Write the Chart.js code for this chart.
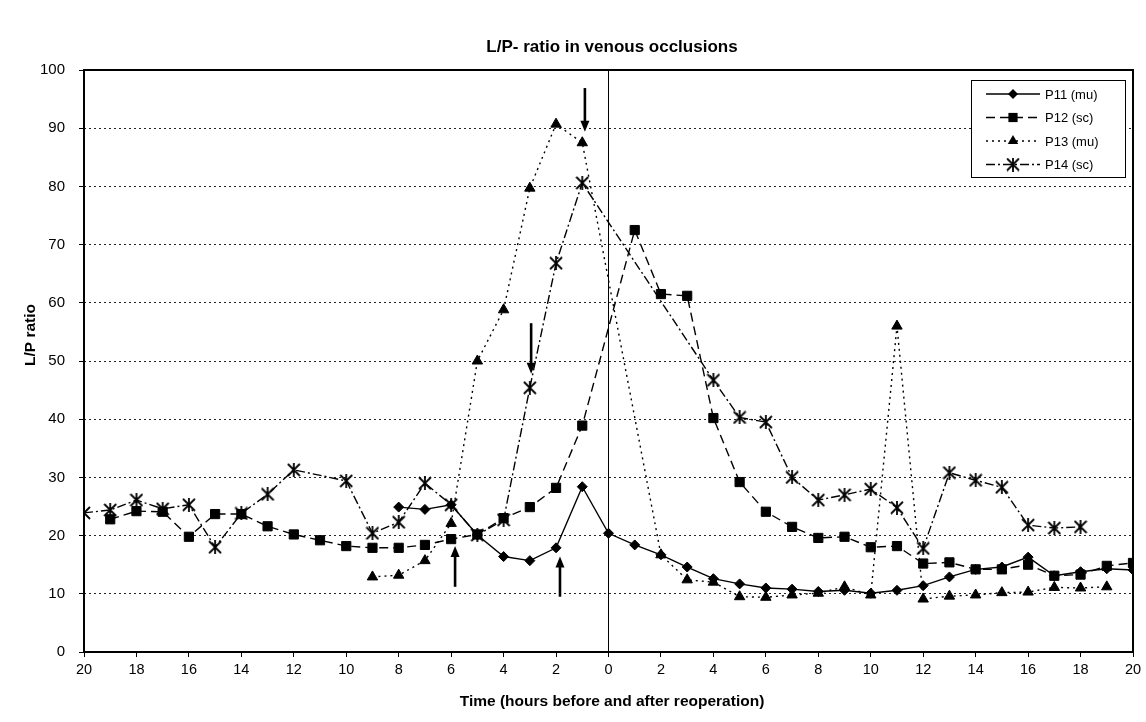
<!DOCTYPE html>
<html>
<head>
<meta charset="utf-8">
<title>L/P- ratio in venous occlusions</title>
<script src="https://cdn.jsdelivr.net/npm/chart.js@4.4.0/dist/chart.umd.min.js"></script>
<style>
  html, body { margin: 0; padding: 0; background: #fff; }
  #wrap { width: 1146px; height: 722px; }
</style>
</head>
<body>
<div id="wrap"><canvas id="chart" width="1146" height="722"></canvas></div>
<script>
// hours before (negative) and after (positive) reoperation
const hours = [-20, -19, -18, -17, -16, -15, -14, -13, -12, -11, -10, -9, -8, -7, -6, -5, -4, -3, -2, -1,
  0, 1, 2, 3, 4, 5, 6, 7, 8, 9, 10, 11, 12, 13, 14, 15, 16, 17, 18, 19, 20];

const p11 = [null, null, null, null, null, null, null, null, null, null, null, null,
  24.9, 24.5, 25.3, 20.1, 16.4, 15.7, 17.9, 28.4,
  20.4, 18.4, 16.7, 14.6, 12.6, 11.7, 11.0, 10.8, 10.4, 10.6, 10.1,
  10.6, 11.4, 12.9, 14.2, 14.6, 16.3, 13.1, 13.8, 14.3, 14.1];

const p12 = [null, 22.8, 24.2, 24.1, 19.8, 23.7, 23.7, 21.6, 20.2, 19.2, 18.2, 17.9,
  17.9, 18.4, 19.4, 20.2, 23.0, 24.9, 28.2, 38.9,
  null, 72.5, 61.5, 61.2, 40.2, 29.2, 24.1, 21.5, 19.6, 19.8, 18.0,
  18.2, 15.2, 15.4, 14.2, 14.2, 15.0, 13.1, 13.3, 14.8, 15.3];

const p13 = [null, null, null, null, null, null, null, null, null, null, null, 12.9,
  13.2, 15.7, 22.1, 50.0, 58.8, 79.7, 90.7, 87.5,
  null, null, 16.7, 12.4, 12.0, 9.5, 9.4, 9.8, 10.1, 11.2, 9.8,
  56.0, 9.1, 9.6, 9.8, 10.2, 10.3, 11.1, 11.0, 11.2, null];

const p14 = [23.9, 24.4, 26.1, 24.6, 25.3, 18.0, 23.8, 27.1, 31.3, null, 29.4, 20.4,
  22.3, 29.0, 25.3, 20.1, 22.7, 45.4, 66.8, 80.6,
  null, null, null, null, 46.7, 40.3, 39.5, 30.0, 26.1, 27.0, 28.0,
  24.8, 17.8, 30.8, 29.5, 28.3, 21.8, 21.3, 21.5, null, null];

const seriesNames = ['P11 (mu)', 'P12 (sc)', 'P13 (mu)', 'P14 (sc)'];

// arrows marking events: hour, start value, tip value
const arrowHour = [-0.9, -2.95, -5.85, -1.85];
const arrowFrom = [96.9, 56.5, 11.2, 9.5];
const arrowTo = [89.4, 47.8, 18.2, 16.4];

const FONT = '"Liberation Sans", Arial, sans-serif';

function makeStar(size) {
  const c = document.createElement('canvas');
  c.width = size;
  c.height = size;
  const g = c.getContext('2d');
  g.strokeStyle = '#000';
  g.lineWidth = 1.8;
  g.beginPath();
  g.moveTo(1, 1); g.lineTo(size - 1, size - 1);
  g.moveTo(size - 1, 1); g.lineTo(1, size - 1);
  g.moveTo(size / 2, 0); g.lineTo(size / 2, size);
  g.stroke();
  return c;
}
const starImg = makeStar(14);

const styles = [
  {dash: [], point: 'rectRot', radius: 5},
  {dash: [9, 5], point: 'rect', radius: 6.5},
  {dash: [2, 4], point: 'triangle', radius: 6},
  {dash: [9, 3, 2, 3], point: starImg, radius: 7}
];

function makeDataset(label, values, st) {
  return {
    label: label,
    data: values,
    borderColor: '#000',
    backgroundColor: '#000',
    borderWidth: 1.4,
    borderDash: st.dash,
    pointStyle: st.point,
    pointRadius: st.radius,
    pointBorderWidth: 1,
    pointBorderColor: '#000',
    pointBackgroundColor: '#000',
    spanGaps: true,
    tension: 0,
    fill: false
  };
}

function drawMarker(ctx, st, x, y) {
  ctx.save();
  ctx.fillStyle = '#000';
  ctx.strokeStyle = '#000';
  const r = st.radius;
  if (st.point === 'rectRot') {
    ctx.beginPath();
    ctx.moveTo(x, y - r); ctx.lineTo(x + r, y); ctx.lineTo(x, y + r); ctx.lineTo(x - r, y);
    ctx.closePath(); ctx.fill();
  } else if (st.point === 'rect') {
    const s = r * Math.SQRT1_2;
    ctx.fillRect(x - s, y - s, 2 * s, 2 * s);
  } else if (st.point === 'triangle') {
    ctx.beginPath();
    ctx.moveTo(x, y - r); ctx.lineTo(x + r * 0.87, y + r * 0.5); ctx.lineTo(x - r * 0.87, y + r * 0.5);
    ctx.closePath(); ctx.fill();
  } else {
    ctx.drawImage(st.point, x - st.point.width / 2, y - st.point.height / 2);
  }
  ctx.restore();
}

const extras = {
  id: 'extras',
  beforeDatasetsDraw(chart) {
    const {ctx, chartArea: a, scales} = chart;
    const x0 = scales.x.getPixelForValue(0);
    ctx.save();
    ctx.strokeStyle = '#000';
    ctx.lineWidth = 1;
    ctx.beginPath();
    ctx.moveTo(x0, a.top);
    ctx.lineTo(x0, a.bottom);
    ctx.stroke();
    ctx.restore();
  },
  afterDraw(chart) {
    const {ctx, chartArea: a, scales} = chart;
    ctx.save();

    // plot frame
    ctx.strokeStyle = '#000';
    ctx.lineWidth = 2;
    ctx.strokeRect(a.left, a.top, a.right - a.left, a.bottom - a.top);

    // arrows
    for (let i = 0; i < arrowHour.length; i++) {
      const x = scales.x.getPixelForValue(arrowHour[i]);
      const y1 = scales.y.getPixelForValue(arrowFrom[i]);
      const y2 = scales.y.getPixelForValue(arrowTo[i]);
      const dir = y2 > y1 ? 1 : -1;
      ctx.lineWidth = 2.6;
      ctx.beginPath();
      ctx.moveTo(x, y1);
      ctx.lineTo(x, y2 - dir * 8);
      ctx.stroke();
      ctx.beginPath();
      ctx.moveTo(x, y2);
      ctx.lineTo(x - 4.5, y2 - dir * 11);
      ctx.lineTo(x + 4.5, y2 - dir * 11);
      ctx.closePath();
      ctx.fillStyle = '#000';
      ctx.fill();
    }

    // texts
    ctx.fillStyle = '#000';
    ctx.textAlign = 'center';
    ctx.textBaseline = 'middle';
    ctx.font = 'bold 17px ' + FONT;
    ctx.fillText('L/P- ratio in venous occlusions', 612, 47);
    ctx.font = 'bold 15.5px ' + FONT;
    ctx.fillText('Time (hours before and after reoperation)', 612, 702);
    ctx.save();
    ctx.translate(31, 335);
    ctx.rotate(-Math.PI / 2);
    ctx.fillText('L/P ratio', 0, 0);
    ctx.restore();

    // legend
    const bx = 971, by = 80, bw = 154, bh = 97;
    ctx.fillStyle = '#fff';
    ctx.fillRect(bx, by, bw, bh);
    ctx.strokeStyle = '#000';
    ctx.lineWidth = 1;
    ctx.strokeRect(bx + 0.5, by + 0.5, bw, bh);
    ctx.font = '13px ' + FONT;
    ctx.textAlign = 'left';
    for (let i = 0; i < seriesNames.length; i++) {
      const y = by + 14 + i * 23.5;
      ctx.strokeStyle = '#000';
      ctx.lineWidth = 1.4;
      ctx.setLineDash(styles[i].dash);
      ctx.beginPath();
      ctx.moveTo(986, y);
      ctx.lineTo(1040, y);
      ctx.stroke();
      ctx.setLineDash([]);
      drawMarker(ctx, styles[i], 1013, y);
      ctx.fillStyle = '#000';
      ctx.fillText(seriesNames[i], 1045, y + 1);
    }
    ctx.restore();
  }
};

new Chart(document.getElementById('chart'), {
  type: 'line',
  data: {
    labels: hours,
    datasets: [
      makeDataset(seriesNames[0], p11, styles[0]),
      makeDataset(seriesNames[1], p12, styles[1]),
      makeDataset(seriesNames[2], p13, styles[2]),
      makeDataset(seriesNames[3], p14, styles[3])
    ]
  },
  options: {
    responsive: false,
    animation: false,
    devicePixelRatio: 1,
    layout: {padding: {top: 70, right: 13, bottom: 0, left: 0}},
    plugins: {legend: {display: false}, title: {display: false}, tooltip: {enabled: false}},
    scales: {
      x: {
        type: 'linear',
        min: -20,
        max: 20,
        afterFit(s) { s.height = 70; },
        grid: {drawOnChartArea: false, drawTicks: true, tickLength: 5, tickColor: '#000'},
        border: {display: false},
        ticks: {
          stepSize: 2,
          autoSkip: false,
          maxRotation: 0,
          padding: 4,
          color: '#000',
          font: {family: FONT, size: 14.5},
          callback: v => Math.abs(v)
        }
      },
      y: {
        min: 0,
        max: 100,
        afterFit(s) { s.width = 84; },
        grid: {color: '#222', lineWidth: 1, tickLength: 5, tickColor: '#000'},
        border: {display: false, dash: [2, 3]},
        ticks: {
          stepSize: 10,
          padding: 14,
          color: '#000',
          font: {family: FONT, size: 15}
        }
      }
    }
  },
  plugins: [extras]
});
</script>
</body>
</html>
